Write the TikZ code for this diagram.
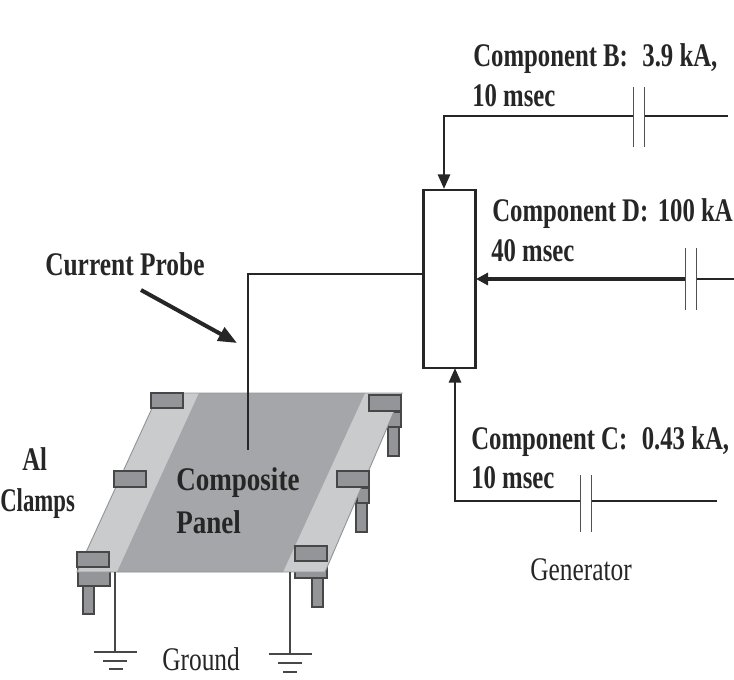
\documentclass[tikz,border=0pt]{standalone}
\usepackage{fontspec}
\setmainfont{Liberation Serif}
\newfontfamily\labfont[FakeStretch=0.75]{Liberation Serif Bold}
\newfontfamily\probefont[FakeStretch=0.77]{Liberation Serif Bold}
\newfontfamily\widefont[FakeStretch=0.82]{Liberation Serif Bold}
\newfontfamily\clampfont[FakeStretch=0.69]{Liberation Serif Bold}
\newfontfamily\regfont[FakeStretch=0.77]{Liberation Serif}
\usetikzlibrary{arrows.meta,calc}
\definecolor{inkc}{HTML}{262626}
\definecolor{paneld}{HTML}{A4A6A9}
\definecolor{panell}{HTML}{C9CBCD}
\definecolor{clampc}{HTML}{939598}
\newcommand{\labsize}{\fontsize{24.75}{28}\selectfont}
\tikzset{
  lab/.style={anchor=base west,inner sep=0pt,text=inkc,font=\labfont\labsize},
  probelab/.style={lab,font=\probefont\labsize},
  widelab/.style={lab,font=\widefont\labsize},
  clamplab/.style={lab,font=\clampfont\labsize},
  reg/.style={anchor=base west,inner sep=0pt,text=inkc,font=\regfont\labsize},
  wire/.style={draw=inkc,line width=2.2pt},
  thin wire/.style={draw=inkc!85,line width=0.8pt},
  plate/.style={draw=inkc!80,line width=0.7pt},
  head/.style={-{Triangle[length=11pt,width=9pt]}},
  clamp/.style={fill=clampc,draw=inkc!85,line width=0.8pt},
}
\begin{document}
\begin{tikzpicture}[x=0.75pt,y=-0.75pt]
\useasboundingbox (0,0) rectangle (734,680);
% clamp parts below the panel
\draw[clamp] (83,583) rectangle (94,614);
\draw[clamp] (78,568) rectangle (110,586);
\draw[clamp] (388,427) rectangle (399,456);
\draw[clamp] (388,412) rectangle (401,427);
\draw[clamp] (356,503) rectangle (367,532);
\draw[clamp] (357,488) rectangle (369,503);
\draw[clamp] (312,575) rectangle (323,607);
\draw[clamp] (295,563) rectangle (327,578);
% panel
\fill[panell] (159,393) -- (402,393) -- (325,572) -- (77,572) -- cycle;
\fill[paneld] (199,393) -- (365,393) -- (283,572) -- (117,572) -- cycle;
\draw[draw=clampc,line width=0.7pt] (159,393) -- (402,393) -- (325,572) -- (77,572) -- cycle;
% clamps on top
\draw[clamp] (151,393) rectangle (183,408);
\draw[clamp] (114,471) rectangle (146,487);
\draw[clamp] (77,552) rectangle (109,567);
\draw[clamp] (369,395) rectangle (401,411);
\draw[clamp] (337,471) rectangle (369,487);
\draw[clamp] (295,546) rectangle (327,561);
% junction box
\node[draw=inkc,line width=1.8pt,fill=white,minimum width=39pt,minimum height=133.5pt,inner sep=0pt,outer sep=0pt] (box) at (449.5,279) {};
% coordinates
\coordinate (bR) at (728,116);
\coordinate (bC2) at (644,116);
\coordinate (bC1) at (633,116);
\coordinate (bL) at (444,116);
\coordinate (bT) at (444,189);
\coordinate (dR) at (734,279);
\coordinate (dC2) at (696,279);
\coordinate (dC1) at (685,279);
\coordinate (dT) at (476,279);
\coordinate (cR) at (717,501);
\coordinate (cC2) at (591,501);
\coordinate (cC1) at (580,501);
\coordinate (cL) at (455,501);
\coordinate (cT) at (455,368);
\coordinate (pL) at (423,274);
\coordinate (pC) at (248,274);
\coordinate (pE) at (248,450);
\coordinate (cpA) at (141,290);
\coordinate (cpB) at (237,343);
\coordinate (g1T) at (115,572);
\coordinate (g1B) at (115,652);
\coordinate (g2T) at (290,572);
\coordinate (g2B) at (290,654);
% wires
\draw[wire] (bR) -- (bC2);
\draw[wire,head] (bC1) -- (bL) -- (bT);
\draw[wire] (dR) -- (dC2);
\draw[wire,line width=3.4pt,-{Triangle[length=9pt,width=9pt]}] (dC1) -- (dT);
\draw[wire] (cR) -- (cC2);
\draw[wire,head] (cC1) -- (cL) -- (cT);
\draw[wire,line width=1.7pt] (pL) -- (pC) -- (pE);
\draw[wire,line width=3pt,-{Triangle[length=14pt,width=11pt]}] (cpA) -- (cpB);
% capacitor plates
\draw[plate] ($(bC1)+(0,-29)$) -- ($(bC1)+(0,31)$);
\draw[plate] ($(bC2)+(0,-29)$) -- ($(bC2)+(0,31)$);
\draw[plate] ($(dC1)+(0,-31)$) -- ($(dC1)+(0,31)$);
\draw[plate] ($(dC2)+(0,-31)$) -- ($(dC2)+(0,31)$);
\draw[plate] ($(cC1)+(0,-26)$) -- ($(cC1)+(0,31)$);
\draw[plate] ($(cC2)+(0,-26)$) -- ($(cC2)+(0,31)$);
% grounds
\draw[thin wire] (g1T) -- (g1B);
\draw[thin wire] ($(g1B)+(-21,0)$) -- ($(g1B)+(22,0)$);
\draw[thin wire] ($(g1B)+(-12,9)$) -- ($(g1B)+(12,9)$);
\draw[thin wire] ($(g1B)+(-6,17)$) -- ($(g1B)+(8,17)$);
\draw[thin wire] (g2T) -- (g2B);
\draw[thin wire] ($(g2B)+(-21,0)$) -- ($(g2B)+(22,0)$);
\draw[thin wire] ($(g2B)+(-12,9)$) -- ($(g2B)+(12,9)$);
\draw[thin wire] ($(g2B)+(-7,18)$) -- ($(g2B)+(7,18)$);
% labels
\node[lab] (tB1) at (473,67) {Component B:\hspace{0.25em} 3.9 kA,};
\node[lab] (tB2) at (472,107) {10 msec};
\node[lab] (tD1) at (492,222) {Component D:\hspace{0.1em} 100 kA};
\node[lab] (tD2) at (491,262) {40 msec};
\node[lab] (tC1) at (471,449) {Component C:\hspace{0.25em} 0.43 kA,};
\node[lab] (tC2) at (471,488) {10 msec};
\node[probelab] (tP) at (45,276) {Current Probe};
\node[lab] (tAl) at (22,470) {Al};
\node[clamplab] (tCl) at (0,511) {Clamps};
\node[widelab] (tCo) at (176,490) {Composite};
\node[widelab] (tPa) at (176,533) {Panel};
\node[reg] (tG) at (162,670) {Ground};
\node[reg] (tGe) at (530,580) {Generator};
\end{tikzpicture}
\end{document}
